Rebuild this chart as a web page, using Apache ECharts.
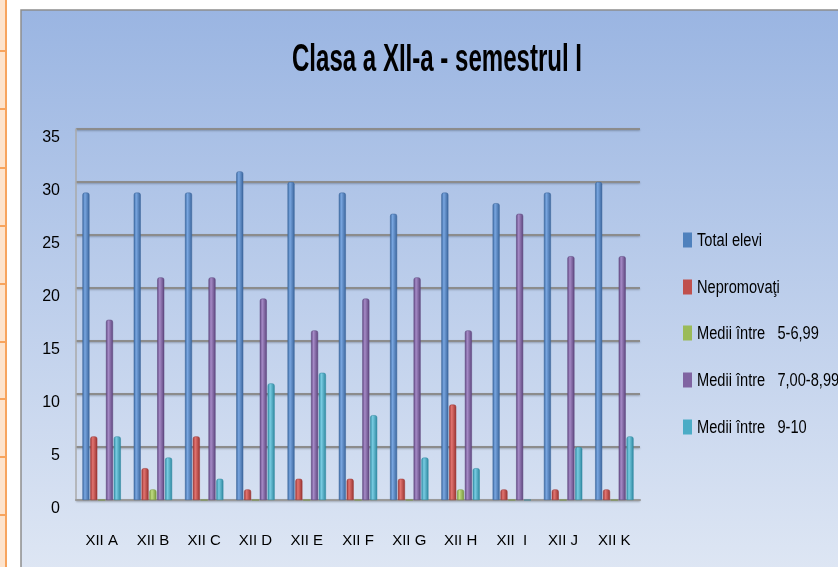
<!DOCTYPE html>
<html>
<head>
<meta charset="utf-8">
<script src="https://cdn.jsdelivr.net/npm/echarts@6/dist/echarts.min.js"></script>
<style>html,body{margin:0;padding:0;background:#fff}#c{width:838px;height:567px}</style>
</head>
<body>
<div id="c"></div>
<script>
const categories = ['XII A','XII B','XII C','XII D','XII E','XII F','XII G','XII H','XII  I','XII J','XII K'];
const seriesNames = ['Total elevi','Nepromovaţi','Medii între   5-6,99','Medii între   7,00-8,99','Medii între   9-10'];
const totalElevi   = [29,29,29,31,30,29,27,29,28,29,30];
const nepromovati  = [6,3,6,1,2,2,2,9,1,1,1];
const medii5_699   = [0,1,0,0,0,0,0,1,0,0,0];
const medii7_899   = [17,21,21,19,16,19,21,16,27,23,23];
const medii9_10    = [6,4,2,11,12,8,4,3,0,5,6];
const yTicks = [0,5,10,15,20,25,30,35];
const titleText = 'Clasa a XII-a - semestrul I';

const fam = '"Liberation Sans","DejaVu Sans",sans-serif';
const palette = [
  ['#3a679f','#79a6e0','#3a649b','#4f81bd'],
  ['#9c3432','#e27470','#983230','#c0504d'],
  ['#7a9a3c','#c0dc82','#76953a','#9bbb59'],
  ['#5f4680','#a58ac6','#5c447c','#8064a2'],
  ['#2f8ba3','#79cce2','#2d879f','#4bacc6']
];
function grad(p){
  return new echarts.graphic.LinearGradient(0,0,1,0,[
    {offset:0,color:p[0]},{offset:0.35,color:p[1]},{offset:1,color:p[2]}]);
}
const dataSets = [totalElevi,nepromovati,medii5_699,medii7_899,medii9_10];

// measure text to emulate the condensed (Calibri-like) look
const mctx = document.createElement('canvas').getContext('2d');
function textW(font, s){ mctx.font = font; return mctx.measureText(s).width; }
const titleFont = 'bold 38px ' + fam;
const titleScale = 290 / textW(titleFont, titleText);
const legFont = '18px ' + fam;
const legScale = 65 / textW(legFont, 'Total elevi');

const chart = echarts.init(document.getElementById('c'),null,{renderer:'canvas'});

const deco = [];
// left spreadsheet strip
deco.push({type:'rect',shape:{x:0,y:0,width:6,height:567},style:{fill:'#fde3cc'},z:-10,silent:true});
deco.push({type:'rect',shape:{x:5,y:0,width:2,height:567},style:{fill:'#f7a45e'},z:-9,silent:true});
[50,108,167,225,283,341,398,456,514].forEach(function(y){
  deco.push({type:'rect',shape:{x:0,y:y,width:6,height:2},style:{fill:'#f7a45e'},z:-9,silent:true});
});
// chart panel
deco.push({type:'rect',shape:{x:21,y:10,width:830,height:570},
  style:{fill:new echarts.graphic.LinearGradient(0,0,0,1,[{offset:0,color:'#9ab5e2'},{offset:1,color:'#dfe7f4'}]),
  stroke:'#8d8d8d',lineWidth:1.5},z:-8,silent:true});
// title
deco.push({type:'text',x:437,y:61,scaleX:titleScale,z:10,silent:true,
  style:{text:titleText,font:titleFont,fill:'#000',textAlign:'center',textVerticalAlign:'middle'}});
// legend
const legY = [240,287,333,380,427];
seriesNames.forEach(function(n,i){
  deco.push({type:'rect',shape:{x:683,y:legY[i]-7.5,width:9,height:15},style:{fill:palette[i][3]},z:10,silent:true});
  deco.push({type:'text',x:697,y:legY[i]+1,scaleX:legScale,z:10,silent:true,
    style:{text:n,font:legFont,fill:'#000',textAlign:'left',textVerticalAlign:'middle'}});
});

chart.setOption({
  backgroundColor:'#ffffff',
  animation:false,
  graphic:deco,
  grid:{left:76,right:198,top:129,bottom:67},
  xAxis:{type:'category',data:categories,
    axisLine:{show:true,lineStyle:{color:'#999',width:2}},
    axisTick:{show:false},
    axisLabel:{fontFamily:fam,fontSize:15,color:'#000',margin:33}},
  yAxis:{type:'value',min:0,max:35,interval:5,
    axisLine:{show:true,lineStyle:{color:'#aaa',width:1.5}},
    axisTick:{show:false},
    splitLine:{lineStyle:{color:'#8c8c8c',width:2,shadowColor:'rgba(0,0,0,0.25)',shadowBlur:2,shadowOffsetY:1}},
    axisLabel:{fontFamily:fam,fontSize:16,color:'#000',margin:16,verticalAlign:'top',lineHeight:18,
      formatter:function(v){return yTicks.indexOf(v)>=0?String(v):'';}}},
  series:dataSets.map(function(d,i){
    return {name:seriesNames[i],type:'bar',data:d,barWidth:7,barGap:'12%',barCategoryGap:'24%',
      itemStyle:{color:grad(palette[i]),borderColor:palette[i][2],borderWidth:0.5,borderRadius:[2,2,0,0]},
      emphasis:{disabled:true}};
  })
});
</script>
</body>
</html>
